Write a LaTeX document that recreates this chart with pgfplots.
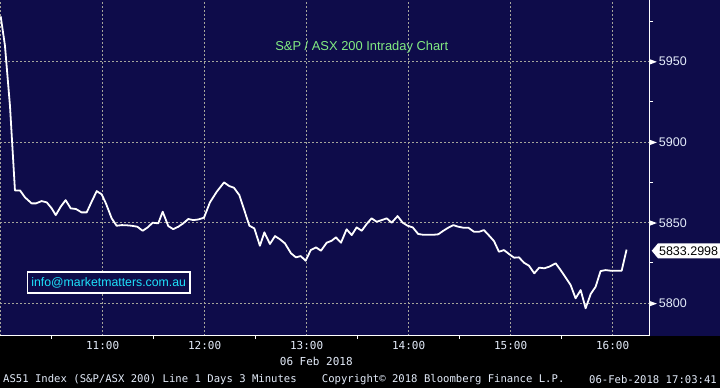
\documentclass[border=0pt]{standalone}
\usepackage{pgfplots}
\pgfplotsset{compat=1.18}
\usepackage{fontspec}
\setmainfont{Liberation Sans}
\newfontfamily\bbg{DejaVu Sans Mono}
\definecolor{navy}{RGB}{14,12,74}
\definecolor{gridc}{RGB}{165,165,155}
\definecolor{ttl}{RGB}{130,235,130}
\definecolor{mail}{RGB}{30,225,250}
\definecolor{lbl}{RGB}{228,236,250}
\newcommand\tri{\tikz[baseline=-0.6ex]\fill[white] (0,-2.6pt)--(7pt,0)--(0,2.6pt)--cycle;}
\begin{document}
\begin{tikzpicture}[x=1pt,y=1pt]
\path[use as bounding box] (0,-52.3) rectangle (720,335.7);
\fill[black] (0,-52.3) rectangle (720,0);
\fill[navy] (0,0) rectangle (720,335.7);
\begin{axis}[at={(0pt,0pt)}, anchor=south west,
  scale only axis, width=649.7pt, height=335.7pt,
  xmin=-0.4, xmax=381.8, ymin=5779.9, ymax=5988.15,
  axis x line*=bottom, axis y line*=right,
  axis line style={white, line width=1.2pt, -},
  xtick={0,60,120,180,240,300,360},
  xticklabels={,11:00,12:00,13:00,14:00,15:00,16:00},
  minor xtick={30,90,150,210,270,330},
  ytick={5800,5850,5900,5950},
  yticklabels={{\tri\,5800},{\tri\,5850},{\tri\,5900},{\tri\,5950}},
  minor ytick={5825,5875,5925,5975},
  major tick length=0pt, minor tick length=3.5pt, tick align=outside,
  tick style={white, line width=1pt},
  grid=major, major grid style={gridc, dash pattern=on 2pt off 2pt, line width=0.8pt},
  xticklabel style={font=\bbg\fontsize{11}{13}\selectfont, text=lbl, anchor=center, yshift=-10pt},
  yticklabel style={font=\fontsize{12.5}{14}\selectfont, text=lbl, anchor=west, inner sep=0pt},
]
\addplot[white, line width=1.8pt, line join=round] coordinates {
(0,5978) (2.5,5960) (5.5,5922) (8.4,5870) (11.4,5870) (14.3,5865.7) (18.2,5862) (20.8,5862)
(24.1,5863.4) (27.1,5862.6) (30,5858.9) (32.4,5854.7) (35.3,5859.9) (38.2,5864)
(41.2,5858.9) (44.3,5858.5) (47.6,5856.4) (50.6,5856.4) (53.5,5863) (56.5,5869.6)
(59.4,5867.6) (61.9,5862) (65.3,5852.7) (68.2,5848.1) (71.2,5848.5) (74.1,5848.4)
(77.1,5848.1) (80.4,5847.5) (83.5,5845) (86.5,5847.1) (89.4,5850) (92.7,5849.6)
(95.3,5856.8) (98.6,5847.9) (101.5,5846) (104.5,5847.5) (107.4,5849.6) (110.4,5852.3)
(113.3,5851.6) (116.2,5852) (119.6,5853.1) (123.1,5862.6) (127.1,5869.2) (131.4,5875)
(134.5,5872.7) (137.2,5871.7) (140.4,5867.1) (143.3,5857.8) (146.3,5848.1) (149.2,5846.5)
(152.5,5835.7) (155.1,5844) (158.4,5836.8) (161.4,5841.7) (164.3,5839.7) (167.2,5837.2)
(170.8,5831) (173.7,5828.5) (176.5,5829.3) (179.4,5826.4) (182.4,5833) (185.5,5834.7)
(188.4,5832.6) (191.8,5837.6) (194.7,5838.8) (197.2,5840.9) (200.2,5837.6) (203.5,5845.9)
(206.5,5842.3) (209.4,5847.1) (212.4,5845) (215.3,5849.2) (218.2,5852.7) (221.2,5850.6)
(224.1,5851.6) (227.1,5852.7) (230,5850) (233.5,5854.1) (236.5,5850) (239.4,5848.1)
(242.4,5847.1) (245.6,5843) (248.6,5842.5) (254.5,5842.5) (257.4,5842.8) (260.4,5845)
(263.3,5846.9) (266.3,5848.5) (269.2,5847.5) (272.1,5846.9) (275.1,5846.9) (278.4,5844.4)
(281.5,5844.4) (284.3,5845.4) (287.4,5841.9) (290.2,5838.6) (293.1,5832) (296.1,5833)
(299,5830.6) (302,5828.3) (304.9,5828.5) (307.8,5825.2) (310.8,5823.3) (313.9,5818.6)
(316.8,5822.1) (319.8,5821.7) (322.7,5822.7) (326.5,5824.8) (329.4,5820.6) (332.4,5815.9)
(335.3,5811.3) (338.2,5803.1) (341.2,5808.2) (344.1,5796.9) (347.1,5805.8) (350,5810.3)
(352.9,5820) (355.9,5820.6) (358.8,5820.2) (365.3,5820.2) (368.2,5833.3)
};
\end{axis}
\node[text=ttl, font=\fontsize{12.9}{14}\selectfont] at (361.7,288.7) {S\&P / ASX 200 Intraday Chart};
\node[draw=white, line width=1.6pt, fill=navy, text=mail, font=\fontsize{12.3}{14}\selectfont,
  minimum width=162.7pt, minimum height=21pt, inner sep=0pt] at (108.7,52.9) {info@marketmatters.com.au};
\fill[white] (651.7,84.9) -- (658,92.4) -- (720,92.4) -- (720,77.4) -- (658,77.4) -- cycle;
\node[text=black, font=\fontsize{12.5}{14}\selectfont, inner sep=0pt] at (688.6,84.9) {5833.2998};
\node[text=lbl, font=\bbg\fontsize{11}{13}\selectfont] at (316.3,-26) {06 Feb 2018};
\node[text=lbl, font=\bbg\fontsize{10.6}{13}\selectfont, anchor=west, inner sep=0pt] at (3,-43.6) {AS51 Index (S\&P/ASX 200) Line 1 Days 3 Minutes};
\node[text=lbl, font=\bbg\fontsize{10.6}{13}\selectfont, anchor=west, inner sep=0pt] at (321.7,-43.6) {Copyright© 2018 Bloomberg Finance L.P.};
\node[text=lbl, font=\bbg\fontsize{10.6}{13}\selectfont, anchor=east, inner sep=0pt] at (717,-43.6) {06-Feb-2018 17:03:41};
\end{tikzpicture}
\end{document}
